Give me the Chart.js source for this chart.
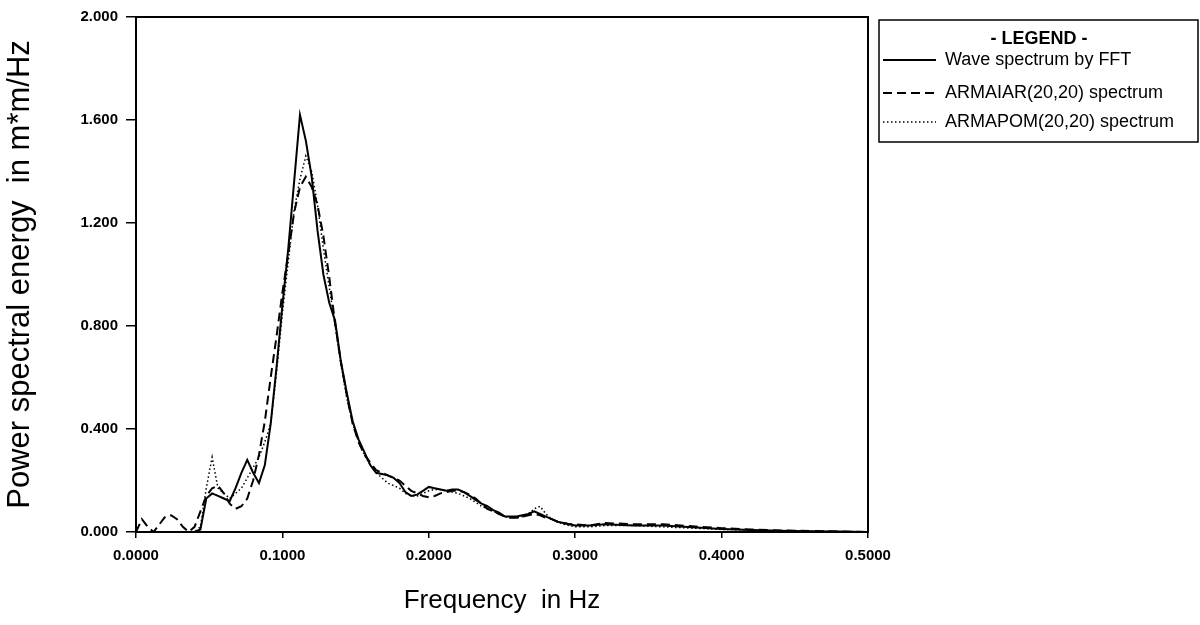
<!DOCTYPE html>
<html>
<head>
<meta charset="utf-8">
<title>Wave spectrum</title>
<script src="https://cdn.jsdelivr.net/npm/chart.js@4/dist/chart.umd.min.js"></script>
<style>
  html, body { margin: 0; padding: 0; background: #fff; }
  #wrap { width: 1200px; height: 625px; }
</style>
</head>
<body>
<div id="wrap"><canvas id="psdChart" width="1200" height="625"></canvas></div>
<script>
// --- dados ---
const freqs = [
  0.000, 0.004, 0.008, 0.012, 0.016, 0.020, 0.024, 0.028, 0.032, 0.036,
  0.040, 0.044, 0.048, 0.052, 0.056, 0.060, 0.064, 0.068, 0.072, 0.076,
  0.080, 0.084, 0.088, 0.092, 0.096, 0.100, 0.104, 0.108, 0.112, 0.116,
  0.120, 0.124, 0.128, 0.132, 0.136, 0.140, 0.144, 0.148, 0.152, 0.156,
  0.160, 0.164, 0.168, 0.172, 0.176, 0.180, 0.184, 0.188, 0.192, 0.196,
  0.200, 0.204, 0.208, 0.212, 0.216, 0.220, 0.224, 0.228, 0.232, 0.236,
  0.240, 0.244, 0.248, 0.252, 0.256, 0.260, 0.264, 0.268, 0.272, 0.276,
  0.280, 0.284, 0.288, 0.292, 0.296, 0.300,
  0.31, 0.32, 0.34, 0.36, 0.38, 0.40, 0.42, 0.44, 0.46, 0.48, 0.50
];

const fftPSD = [
  0, 0, 0, 0, 0, 0, 0, 0, 0, 0,
  0, 0.01, 0.13, 0.15, 0.14, 0.13, 0.12, 0.17, 0.23, 0.28,
  0.23, 0.19, 0.26, 0.42, 0.64, 0.88, 1.10, 1.36, 1.62, 1.52,
  1.38, 1.17, 1.00, 0.89, 0.82, 0.66, 0.54, 0.43, 0.36, 0.31,
  0.26, 0.23, 0.225, 0.22, 0.21, 0.19, 0.155, 0.14, 0.145, 0.16,
  0.175, 0.17, 0.165, 0.16, 0.165, 0.165, 0.155, 0.14, 0.125, 0.11,
  0.10, 0.085, 0.075, 0.06, 0.06, 0.06, 0.065, 0.07, 0.08, 0.07,
  0.06, 0.05, 0.04, 0.035, 0.03, 0.025,
  0.025, 0.03, 0.025, 0.025, 0.018, 0.012, 0.008, 0.005, 0.003, 0.002, 0
];

const armaiarPSD = [
  0, 0.05, 0.02, 0, 0.03, 0.06, 0.065, 0.05, 0.02, 0,
  0.02, 0.08, 0.14, 0.17, 0.18, 0.15, 0.11, 0.09, 0.10, 0.13,
  0.20, 0.30, 0.43, 0.60, 0.76, 0.93, 1.08, 1.24, 1.34, 1.38,
  1.34, 1.27, 1.15, 0.99, 0.81, 0.66, 0.53, 0.42, 0.35, 0.30,
  0.27, 0.24, 0.23, 0.22, 0.21, 0.20, 0.18, 0.16, 0.15, 0.14,
  0.135, 0.14, 0.15, 0.155, 0.16, 0.16, 0.155, 0.145, 0.13, 0.11,
  0.09, 0.08, 0.07, 0.06, 0.055, 0.055, 0.06, 0.065, 0.07, 0.065,
  0.055, 0.05, 0.04, 0.035, 0.03, 0.03,
  0.025, 0.035, 0.03, 0.03, 0.022, 0.015, 0.01, 0.006, 0.004, 0.002, 0
];

const armapomPSD = [
  0, 0, 0, 0, 0, 0, 0, 0, 0, 0,
  0, 0.02, 0.17, 0.29, 0.17, 0.15, 0.13, 0.15, 0.17, 0.21,
  0.25, 0.29, 0.35, 0.42, 0.62, 0.85, 1.05, 1.25, 1.37, 1.46,
  1.40, 1.27, 1.10, 0.95, 0.80, 0.65, 0.52, 0.42, 0.35, 0.30,
  0.26, 0.23, 0.21, 0.19, 0.18, 0.17, 0.15, 0.14, 0.14, 0.15,
  0.16, 0.165, 0.165, 0.16, 0.155, 0.15, 0.14, 0.13, 0.115, 0.10,
  0.09, 0.08, 0.07, 0.06, 0.055, 0.055, 0.06, 0.07, 0.09, 0.10,
  0.07, 0.05, 0.04, 0.03, 0.025, 0.02,
  0.02, 0.025, 0.025, 0.02, 0.015, 0.01, 0.008, 0.004, 0.003, 0.001, 0
];

const seriesLabels = ['Wave spectrum by FFT', 'ARMAIAR(20,20) spectrum', 'ARMAPOM(20,20) spectrum'];
const legendTitle = '- LEGEND -';

const fontFamily = '"Liberation Sans", Arial, Helvetica, sans-serif';
const ink = '#000000';

function toPoints(values) {
  return freqs.map((f, i) => ({ x: f, y: values[i] }));
}

// moldura em volta da área do gráfico + legenda desenhada à mão
const framePlugin = {
  id: 'frameAndLegend',
  afterDraw(chart) {
    const { ctx, chartArea } = chart;
    ctx.save();
    ctx.strokeStyle = ink;
    ctx.lineWidth = 2;
    ctx.strokeRect(chartArea.left, chartArea.top, chartArea.right - chartArea.left, chartArea.bottom - chartArea.top);

    // caixa da legenda
    const bx = chartArea.right + 11, by = chartArea.top + 3;
    const bw = 319, bh = 122;
    ctx.lineWidth = 1.5;
    ctx.strokeRect(bx, by, bw, bh);

    ctx.fillStyle = ink;
    ctx.textBaseline = 'middle';
    ctx.textAlign = 'center';
    ctx.font = 'bold 18px ' + fontFamily;
    ctx.fillText(legendTitle, bx + 160, by + 19);

    const rowsY = [by + 40, by + 73, by + 102];
    ctx.textAlign = 'left';
    ctx.font = '18px ' + fontFamily;
    chart.data.datasets.forEach((ds, i) => {
      const y = rowsY[i];
      ctx.beginPath();
      ctx.setLineDash(ds.borderDash || []);
      ctx.lineWidth = ds.borderWidth;
      ctx.moveTo(bx + 4, y);
      ctx.lineTo(bx + 57, y);
      ctx.stroke();
      ctx.setLineDash([]);
      ctx.fillText(ds.label, bx + 66, y);
    });
    ctx.restore();
  }
};

const ctx = document.getElementById('psdChart').getContext('2d');
new Chart(ctx, {
  type: 'line',
  data: {
    datasets: [
      { label: seriesLabels[0], data: toPoints(fftPSD), borderColor: ink, borderWidth: 2, borderDash: [] },
      { label: seriesLabels[1], data: toPoints(armaiarPSD), borderColor: ink, borderWidth: 2, borderDash: [9, 5] },
      { label: seriesLabels[2], data: toPoints(armapomPSD), borderColor: ink, borderWidth: 1.5, borderDash: [1.5, 2.5] }
    ]
  },
  options: {
    responsive: false,
    devicePixelRatio: 1,
    animation: false,
    layout: { padding: { left: 0, top: 17, right: 332, bottom: 0 } },
    elements: { point: { radius: 0 }, line: { tension: 0, fill: false } },
    plugins: { legend: { display: false }, tooltip: { enabled: false } },
    scales: {
      x: {
        type: 'linear',
        min: 0, max: 0.5,
        afterFit(scale) { scale.height = 93; },
        border: { color: ink, width: 2 },
        grid: { drawOnChartArea: false, drawTicks: true, tickLength: 6, color: ink, lineWidth: 1.5 },
        ticks: {
          stepSize: 0.1, color: ink, padding: 9, maxRotation: 0,
          font: { family: fontFamily, size: 15, weight: 'bold' },
          callback: v => Number(v).toFixed(4)
        },
        title: {
          display: true, text: 'Frequency  in Hz', color: ink,
          font: { family: fontFamily, size: 26 },
          padding: { top: 0, bottom: 9 }
        }
      },
      y: {
        min: 0, max: 2,
        afterFit(scale) { scale.width = 136; },
        border: { color: ink, width: 2 },
        grid: { drawOnChartArea: false, drawTicks: true, tickLength: 10, color: ink, lineWidth: 1.5 },
        ticks: {
          stepSize: 0.4, color: ink, padding: 8,
          font: { family: fontFamily, size: 15, weight: 'bold' },
          callback: v => Number(v).toFixed(3)
        },
        title: {
          display: true, text: 'Power spectral energy  in m*m/Hz', color: ink,
          font: { family: fontFamily, size: 31 },
          padding: { top: 2, bottom: 0 }
        }
      }
    }
  },
  plugins: [framePlugin]
});
</script>
</body>
</html>
